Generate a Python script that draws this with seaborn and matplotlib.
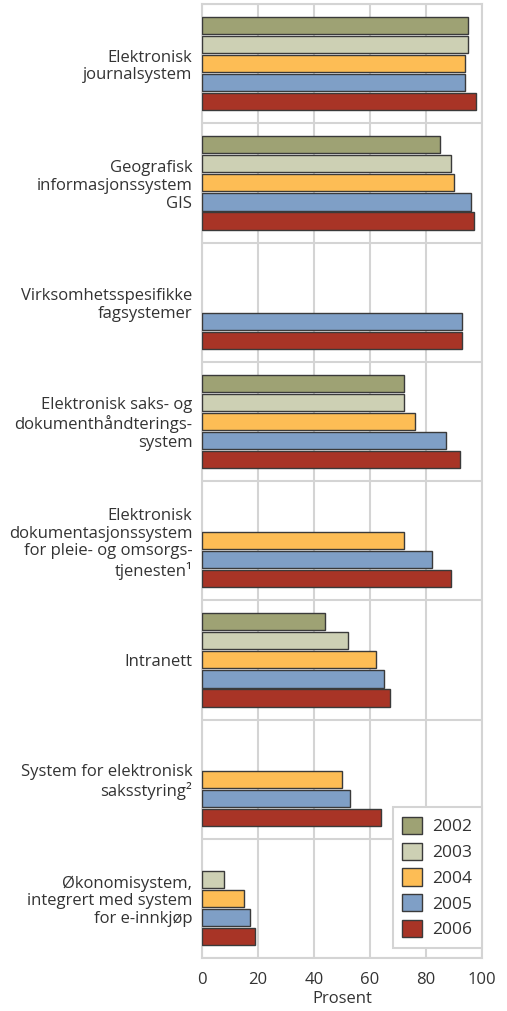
import numpy as np
import pandas as pd
import matplotlib
matplotlib.use('Agg')
import matplotlib.pyplot as plt
import seaborn as sns

# Category labels (multi-line, as in the original)
categories = [
    "Elektronisk\njournalsystem",
    "Geografisk\ninformasjonssystem\nGIS",
    "Virksomhetsspesifikke\nfagsystemer",
    "Elektronisk saks- og\ndokumenthåndterings-\nsystem",
    "Elektronisk\ndokumentasjonssystem\nfor pleie- og omsorgs-\ntjenesten\u00b9",
    "Intranett",
    "System for elektronisk\nsaksstyring\u00b2",
    "Økonomisystem,\nintegrert med system\nfor e-innkjøp",
]
years = ["2002", "2003", "2004", "2005", "2006"]

# Percent values per year (NaN = not asked that year)
v2002 = [95, 85, np.nan, 72, np.nan, 44, np.nan, np.nan]
v2003 = [95, 89, np.nan, 72, np.nan, 52, np.nan, 8]
v2004 = [94, 90, np.nan, 76, 72, 62, 50, 15]
v2005 = [94, 96, 93, 87, 82, 65, 53, 17]
v2006 = [98, 97, 93, 92, 89, 67, 64, 19]

colors = ["#9ea274", "#cdd0b4", "#fdbd55", "#7f9fc6", "#a83426"]
grid_col = "#d4d4d4"
text_col = "#333333"

rows = []
for yr, vals in zip(years, [v2002, v2003, v2004, v2005, v2006]):
    for cat, v in zip(categories, vals):
        rows.append({"Kategori": cat, "År": yr, "Prosent": v})
df = pd.DataFrame(rows)

sns.set_theme(style="white")
plt.rcParams['font.family'] = ['Open Sans', 'DejaVu Sans']
plt.rcParams['text.color'] = text_col

fig = plt.figure(figsize=(5.07, 10.11), dpi=100)
ax = fig.add_axes([202 / 507, 1 - 958 / 1011, 280 / 507, 954 / 1011])

sns.barplot(data=df, y="Kategori", x="Prosent", hue="År", order=categories,
            hue_order=years, palette=colors, saturation=1, orient="h",
            width=0.8, gap=0.1, edgecolor="#3a3a3a", linewidth=1.0,
            ax=ax, zorder=3)

ax.set_xlim(0, 100)
ax.set_ylim(len(categories) - 0.5, -0.5)
ax.set_xticks([0, 20, 40, 60, 80, 100])
ax.set_yticks(np.arange(-0.5, len(categories), 1.0), minor=True)
ax.grid(True, axis="x", color=grid_col, linewidth=1.5, zorder=0)
ax.grid(True, axis="y", which="minor", color=grid_col, linewidth=1.5, zorder=0)
ax.grid(False, axis="y", which="major")
ax.set_axisbelow(True)
for s in ax.spines.values():
    s.set_color(grid_col)
    s.set_linewidth(1.5)

ax.tick_params(axis="both", which="both", length=0, colors=text_col, labelsize=12)
ax.tick_params(axis="y", pad=7)
ax.tick_params(axis="x", pad=10)
for lab in ax.get_yticklabels():
    lab.set_multialignment("right")
    lab.set_linespacing(1.15)

ax.set_ylabel("")
ax.set_xlabel("Prosent", fontsize=12, color=text_col, labelpad=2)

handles, labels = ax.get_legend_handles_labels()
if ax.get_legend() is not None:
    ax.get_legend().remove()
leg = ax.legend(handles, labels, loc="lower right", bbox_to_anchor=(1.0, 0.0105),
                borderaxespad=0, frameon=True, fancybox=False, fontsize=12.5,
                handlelength=1.15, handleheight=1.15, labelspacing=0.42,
                handletextpad=0.6, borderpad=0.55, framealpha=1)
leg.get_frame().set_edgecolor(grid_col)
leg.get_frame().set_linewidth(1.5)
for t in leg.get_texts():
    t.set_color(text_col)

fig.savefig("out.png", dpi=100)
